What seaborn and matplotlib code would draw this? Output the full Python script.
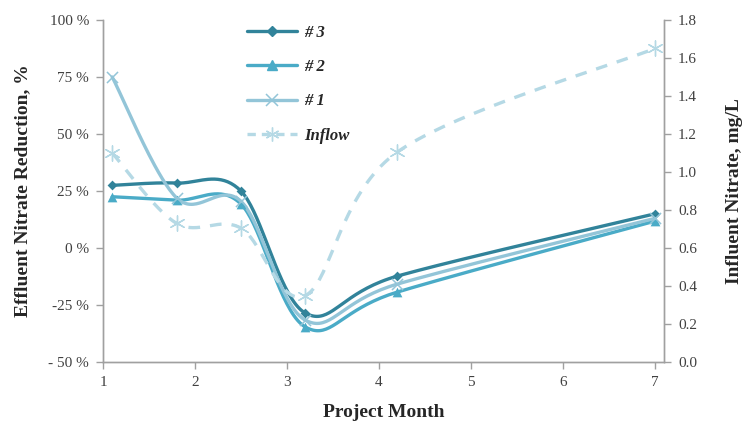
import numpy as np
import pandas as pd
import seaborn as sns
import matplotlib.pyplot as plt
from matplotlib.lines import Line2D
from matplotlib.ticker import FixedLocator, FixedFormatter

months = [1.1, 1.8, 2.5, 3.2, 4.2, 7.0]
red_3 = [27.5, 28.5, 25.0, -28.5, -12.3, 15.0]
red_2 = [22.5, 21.0, 19.3, -34.6, -19.3, 11.8]
red_1 = [75.0, 22.0, 20.5, -31.6, -15.8, 13.0]
inflow = [1.10, 0.73, 0.705, 0.35, 1.105, 1.65]

left_ticks = [-50, -25, 0, 25, 50, 75, 100]
left_labels = ["- 50 %", "-25 %", "0 %", "25 %", "50 %", "75 %", "100 %"]
right_ticks = [0.0, 0.2, 0.4, 0.6, 0.8, 1.0, 1.2, 1.4, 1.6, 1.8]

c3 = "#31839a"
c2 = "#4aabc7"
c1 = "#93c5d8"
cin = "#b5d9e5"


def smooth(x, y, sx, sy, n=40):
    # excel-like smoothed line (catmull-rom through the points)
    p = np.column_stack([np.asarray(x) * sx, np.asarray(y) * sy])
    p = np.vstack([p[0], p, p[-1]])
    out = []
    for i in range(1, len(p) - 2):
        p0, p1, p2, p3 = p[i - 1], p[i], p[i + 1], p[i + 2]
        t = np.linspace(0, 1, n)[:, None]
        seg = 0.5 * ((2 * p1) + (-p0 + p2) * t + (2 * p0 - 5 * p1 + 4 * p2 - p3) * t ** 2
                     + (-p0 + 3 * p1 - 3 * p2 + p3) * t ** 3)
        out.append(seg)
    out = np.vstack(out)
    return out[:, 0] / sx, out[:, 1] / sy


sns.set_style("white")
plt.rcParams["font.family"] = ["Liberation Serif", "DejaVu Serif"]

fig = plt.figure(figsize=(7.48, 4.25), dpi=100)
ax = fig.add_axes([0.1377, 0.148, 0.75, 0.805])
ax2 = ax.twinx()

lw = 2.4
series = [("# 3", red_3, c3, "D", 5, 1.2), ("# 2", red_2, c2, "^", 7, 1.2), ("# 1", red_1, c1, "x", 8, 1.1)]
for name, vals, col, mk, ms, mew in series:
    sx, sy = smooth(months, vals, 92.0, 2.28)
    df = pd.DataFrame({"x": sx, "y": sy})
    sns.lineplot(data=df, x="x", y="y", ax=ax, color=col, linewidth=lw, sort=False, estimator=None)
    pts = pd.DataFrame({"x": months, "y": vals})
    sns.scatterplot(data=pts, x="x", y="y", ax=ax, color=col, marker=mk, s=ms ** 2,
                    linewidth=mew if mk == "x" else 0, edgecolor=col, zorder=5)

sx, sy = smooth(months, inflow, 92.0, 190.0)
df_in = pd.DataFrame({"x": sx, "y": sy})
sns.lineplot(data=df_in, x="x", y="y", ax=ax2, color=cin, linewidth=lw, sort=False,
             estimator=None, linestyle=(0, (3.5, 3)))
sns.scatterplot(data=pd.DataFrame({"x": months, "y": inflow}), x="x", y="y", ax=ax2,
                color=cin, marker=(6, 2, 0), s=120, linewidth=1.0, edgecolor=cin, zorder=5)

ax.set_xlim(1, 7.1)
ax.set_ylim(-50, 100)
ax2.set_ylim(0, 1.8)
ax.set_xticks([1, 2, 3, 4, 5, 6, 7])
ax.yaxis.set_major_locator(FixedLocator(left_ticks))
ax.yaxis.set_major_formatter(FixedFormatter(left_labels))
ax2.set_yticks(right_ticks)
ax2.set_yticklabels([f"{v:.1f}" for v in right_ticks])

for a in (ax, ax2):
    for s in a.spines.values():
        s.set_color("#a0a0a0")
        s.set_linewidth(1.0)
    a.spines["top"].set_visible(False)
    a.tick_params(colors="#a0a0a0", labelcolor="#404040", labelsize=11, length=5, width=1.0,
                  direction="out", pad=5)
ax.tick_params(axis="both", left=True, bottom=True)
ax2.tick_params(axis="y", right=True)

ax.set_xlabel("Project Month", fontsize=14, fontweight="bold", labelpad=11)
ax.set_ylabel("Effluent Nitrate Reduction, %", fontsize=14, fontweight="bold", labelpad=12)
ax2.set_ylabel("Influent Nitrate, mg/L", fontsize=14, fontweight="bold", labelpad=21)

handles = [
    Line2D([], [], color=c3, lw=lw, marker="D", ms=5),
    Line2D([], [], color=c2, lw=lw, marker="^", ms=7),
    Line2D([], [], color=c1, lw=lw, marker="x", ms=8, mew=1.1),
    Line2D([], [], color=cin, lw=lw, ls=(0, (2.5, 1.8)), marker=(6, 2, 0), ms=10, mew=1.0),
]
ax.legend(handles, ["# 3", "# 2", "# 1", "Inflow"], loc="upper left", bbox_to_anchor=(0.23, 1.03),
          frameon=False, prop={"weight": "bold", "style": "italic", "size": 12},
          labelspacing=1.1, handlelength=3.0, handletextpad=0.4)

fig.savefig("out.png", dpi=100)
